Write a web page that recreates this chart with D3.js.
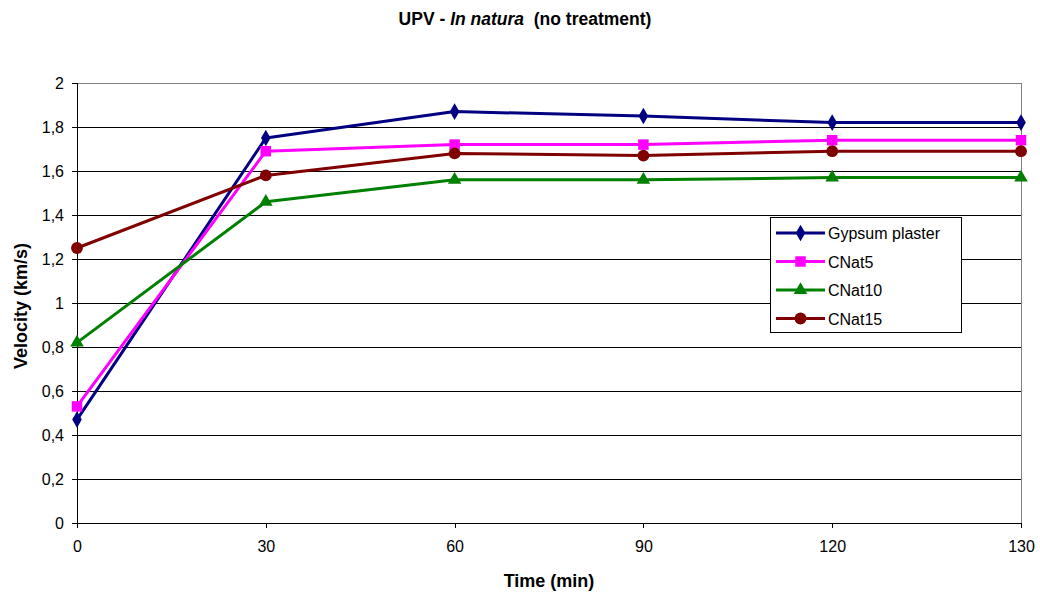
<!DOCTYPE html>
<html>
<head>
<meta charset="utf-8">
<script src="https://cdn.jsdelivr.net/npm/d3@7"></script>
<style>
  body { margin: 0; background: #fff; }
  text { font-family: "Liberation Sans", Arial, sans-serif; }
</style>
</head>
<body>
<div id="chart"></div>
<script>
// categories (time, min)
const times = ['0', '30', '60', '90', '120', '130'];

// series values (km/s)
const gypsum = [0.47, 1.75, 1.87, 1.85, 1.82, 1.82];
const cnat5 = [0.53, 1.69, 1.72, 1.72, 1.74, 1.74];
const cnat10 = [0.82, 1.46, 1.56, 1.56, 1.57, 1.57];
const cnat15 = [1.25, 1.58, 1.68, 1.67, 1.69, 1.69];

const yTicks = [0, 0.2, 0.4, 0.6, 0.8, 1, 1.2, 1.4, 1.6, 1.8, 2];

const series = [
  { name: 'Gypsum plaster', values: gypsum, color: '#000080', symbol: d3.symbolDiamond, size: 80 },
  { name: 'CNat5', values: cnat5, color: '#ff00ff', symbol: d3.symbolSquare, size: 110 },
  { name: 'CNat10', values: cnat10, color: '#008000', symbol: d3.symbolTriangle, size: 80 },
  { name: 'CNat15', values: cnat15, color: '#800000', symbol: d3.symbolCircle, size: 110 },
];

const width = 1040, height = 594;
const margin = { top: 83, right: 19, bottom: 71, left: 77 };
const innerW = width - margin.left - margin.right;
const innerH = height - margin.top - margin.bottom;

const svg = d3.select('#chart').append('svg')
  .attr('width', width)
  .attr('height', height);

const g = svg.append('g')
  .attr('transform', 'translate(' + margin.left + ',' + margin.top + ')');

const x = d3.scalePoint().domain(times).range([0, innerW]).padding(0);
const y = d3.scaleLinear().domain([0, 2]).range([innerH, 0]);

// gridlines
g.selectAll('.grid')
  .data(yTicks.filter((t) => t > 0 && t < 2))
  .enter()
  .append('line')
  .attr('x1', 0)
  .attr('x2', innerW)
  .attr('y1', (d) => y(d))
  .attr('y2', (d) => y(d))
  .attr('stroke', '#000')
  .attr('stroke-width', 1)
  .attr('shape-rendering', 'crispEdges');

// plot area border (top / right)
g.append('line').attr('x1', 0).attr('x2', innerW).attr('y1', 0).attr('y2', 0)
  .attr('stroke', '#808080').attr('shape-rendering', 'crispEdges');
g.append('line').attr('x1', innerW).attr('x2', innerW).attr('y1', 0).attr('y2', innerH)
  .attr('stroke', '#808080').attr('shape-rendering', 'crispEdges');

// axes
const yAxis = g.append('g')
  .call(d3.axisLeft(y).tickValues(yTicks).tickSize(5).tickPadding(8)
    .tickFormat((d) => String(d).replace('.', ',')));
const xAxis = g.append('g')
  .attr('transform', 'translate(0,' + innerH + ')')
  .call(d3.axisBottom(x).tickSize(5).tickPadding(13));

[yAxis, xAxis].forEach((a) => {
  a.select('.domain').attr('stroke', '#000').attr('shape-rendering', 'crispEdges');
  a.selectAll('.tick line').attr('stroke', '#000').attr('shape-rendering', 'crispEdges');
  a.selectAll('text').attr('font-size', 16).attr('fill', '#000')
    .attr('font-family', '"Liberation Sans", Arial, sans-serif');
});
xAxis.select('.domain').attr('d', 'M0,0H' + innerW);
yAxis.select('.domain').attr('d', 'M0,0V' + innerH);

// lines + markers
const line = d3.line()
  .x((d, i) => x(times[i]))
  .y((d) => y(d));

series.forEach((s) => {
  g.append('path')
    .datum(s.values)
    .attr('d', line)
    .attr('fill', 'none')
    .attr('stroke', s.color)
    .attr('stroke-width', 3)
    .attr('stroke-linejoin', 'round');
  g.selectAll(null)
    .data(s.values)
    .enter()
    .append('path')
    .attr('d', d3.symbol().type(s.symbol).size(s.size))
    .attr('transform', (d, i) => 'translate(' + x(times[i]) + ',' + y(d) + ')')
    .attr('fill', s.color);
});

// legend
const legend = svg.append('g').attr('transform', 'translate(770,217)');
legend.append('rect')
  .attr('x', 0.5).attr('y', 0.5)
  .attr('width', 191).attr('height', 115)
  .attr('fill', '#fff')
  .attr('stroke', '#000');
series.forEach((s, i) => {
  const ly = 16 + i * 28.5;
  legend.append('line')
    .attr('x1', 6).attr('x2', 55).attr('y1', ly).attr('y2', ly)
    .attr('stroke', s.color).attr('stroke-width', 3);
  legend.append('path')
    .attr('d', d3.symbol().type(s.symbol).size(s.size))
    .attr('transform', 'translate(30.5,' + ly + ')')
    .attr('fill', s.color);
  legend.append('text')
    .attr('x', 58).attr('y', ly + 6)
    .attr('font-size', 16)
    .text(s.name);
});

// titles
const title = svg.append('text')
  .attr('x', 525).attr('y', 25)
  .attr('text-anchor', 'middle')
  .attr('font-size', 17.5)
  .attr('font-weight', 'bold');
title.append('tspan').text('UPV - ');
title.append('tspan').attr('font-style', 'italic').text('In natura');
title.append('tspan').text('\u00a0 (no treatment)');

svg.append('text')
  .attr('x', 549).attr('y', 587)
  .attr('text-anchor', 'middle')
  .attr('font-size', 18)
  .attr('font-weight', 'bold')
  .text('Time (min)');

svg.append('text')
  .attr('transform', 'translate(27,306) rotate(-90)')
  .attr('text-anchor', 'middle')
  .attr('font-size', 18)
  .attr('font-weight', 'bold')
  .text('Velocity (km/s)');
</script>
</body>
</html>
